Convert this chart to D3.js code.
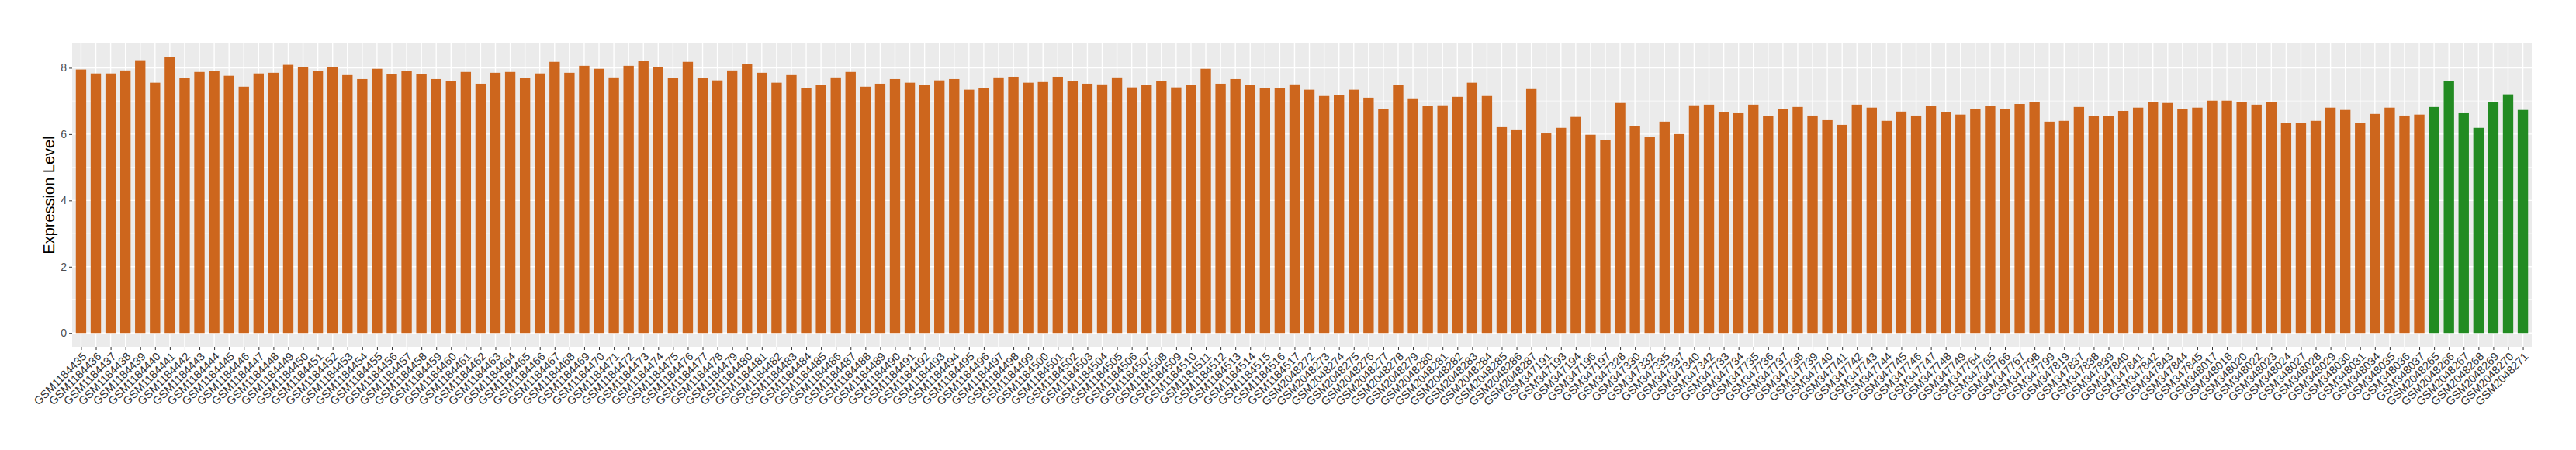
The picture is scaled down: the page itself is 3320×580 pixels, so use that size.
<!DOCTYPE html>
<html>
<head>
<meta charset="utf-8">
<script src="https://cdn.jsdelivr.net/npm/d3@7"></script>
<style>
  html, body { margin: 0; padding: 0; background: #ffffff; }
  svg { display: block; }
</style>
</head>
<body>
<svg id="chart" width="3320" height="580"></svg>
<script>
// ---------------- DATA ----------------
const samples = [
  "GSM1184435","GSM1184436","GSM1184437","GSM1184438","GSM1184439","GSM1184440","GSM1184441","GSM1184442","GSM1184443","GSM1184444",
  "GSM1184445","GSM1184446","GSM1184447","GSM1184448","GSM1184449","GSM1184450","GSM1184451","GSM1184452","GSM1184453","GSM1184454",
  "GSM1184455","GSM1184456","GSM1184457","GSM1184458","GSM1184459","GSM1184460","GSM1184461","GSM1184462","GSM1184463","GSM1184464",
  "GSM1184465","GSM1184466","GSM1184467","GSM1184468","GSM1184469","GSM1184470","GSM1184471","GSM1184472","GSM1184473","GSM1184474",
  "GSM1184475","GSM1184476","GSM1184477","GSM1184478","GSM1184479","GSM1184480","GSM1184481","GSM1184482","GSM1184483","GSM1184484",
  "GSM1184485","GSM1184486","GSM1184487","GSM1184488","GSM1184489","GSM1184490","GSM1184491","GSM1184492","GSM1184493","GSM1184494",
  "GSM1184495","GSM1184496","GSM1184497","GSM1184498","GSM1184499","GSM1184500","GSM1184501","GSM1184502","GSM1184503","GSM1184504",
  "GSM1184505","GSM1184506","GSM1184507","GSM1184508","GSM1184509","GSM1184510","GSM1184511","GSM1184512","GSM1184513","GSM1184514",
  "GSM1184515","GSM1184516","GSM1184517",
  "GSM2048272","GSM2048273","GSM2048274","GSM2048275","GSM2048276","GSM2048277","GSM2048278","GSM2048279","GSM2048280","GSM2048281",
  "GSM2048282","GSM2048283","GSM2048284","GSM2048285","GSM2048286","GSM2048287",
  "GSM347191","GSM347193","GSM347194","GSM347196","GSM347197","GSM347328","GSM347330","GSM347332","GSM347335","GSM347337",
  "GSM347340","GSM347342","GSM347733","GSM347734","GSM347735","GSM347736","GSM347737","GSM347738","GSM347739","GSM347740",
  "GSM347741","GSM347742","GSM347743","GSM347744","GSM347745","GSM347746","GSM347747","GSM347748","GSM347749","GSM347764",
  "GSM347765","GSM347766","GSM347767","GSM347798","GSM347799","GSM347819","GSM347837","GSM347838","GSM347839","GSM347840",
  "GSM347841","GSM347842","GSM347843","GSM347844","GSM347845","GSM348017","GSM348018","GSM348020","GSM348022","GSM348023",
  "GSM348024","GSM348027","GSM348028","GSM348029","GSM348030","GSM348031","GSM348034","GSM348035","GSM348036","GSM348037",
  "GSM2048265","GSM2048266","GSM2048267","GSM2048268","GSM2048269","GSM2048270","GSM2048271"
];

const expression = [
  7.95, 7.83, 7.83, 7.92, 8.23, 7.55, 8.32, 7.69, 7.875, 7.90,
  7.76, 7.43, 7.83, 7.85, 8.09, 8.02, 7.90, 8.02, 7.78, 7.66,
  7.97, 7.80, 7.90, 7.80, 7.66, 7.59, 7.875, 7.52, 7.85, 7.875,
  7.69, 7.83, 8.18, 7.85, 8.06, 7.97, 7.71, 8.06, 8.20, 8.02,
  7.69, 8.18, 7.69, 7.62, 7.92, 8.11, 7.85, 7.55, 7.78, 7.38,
  7.48, 7.71, 7.875, 7.43, 7.52, 7.66, 7.55, 7.48, 7.62, 7.66,
  7.34, 7.38, 7.71, 7.73, 7.55, 7.57, 7.73, 7.59, 7.52, 7.50,
  7.71, 7.41, 7.48, 7.59, 7.41, 7.48, 7.97, 7.52, 7.66, 7.48,
  7.38, 7.38, 7.50,
  7.34, 7.15, 7.17, 7.34, 7.10, 6.75, 7.48, 7.08, 6.84, 6.87,
  7.125, 7.55, 7.15, 6.21, 6.14, 7.36,
  6.02, 6.19, 6.52, 5.98, 5.82, 6.94, 6.24, 5.92, 6.375, 6.00,
  6.87, 6.89, 6.66, 6.63, 6.89, 6.54, 6.75, 6.82, 6.56, 6.42,
  6.28, 6.89, 6.80, 6.40, 6.68, 6.56, 6.84, 6.66, 6.59, 6.77,
  6.84, 6.77, 6.91, 6.96, 6.375, 6.40, 6.82, 6.54, 6.54, 6.70,
  6.80, 6.96, 6.94, 6.75, 6.80, 7.01, 7.01, 6.96, 6.89, 6.98,
  6.33, 6.33, 6.40, 6.80, 6.73, 6.33, 6.61, 6.80, 6.56, 6.59,
  6.82, 7.59, 6.63, 6.19, 6.96, 7.20, 6.73
];

// samples drawn in the second (green) group
const greenSamples = ["GSM2048265","GSM2048266","GSM2048267","GSM2048268","GSM2048269","GSM2048270","GSM2048271"];
const groupColors = { orange: "#CD661D", green: "#228B22" };

const yTicks = [0, 2, 4, 6, 8];
const yMinor = [1, 3, 5, 7];
const yTitle = "Expression Level";

// ---------------- LAYOUT ----------------
const panel = { left: 93, right: 3263, top: 56, bottom: 447 };
const font = "'Liberation Sans', Arial, Helvetica, sans-serif";

const svg = d3.select("#chart");
const data = samples.map((s, i) => ({ sample: s, value: expression[i] }));

// discrete scale with ggplot-like 0.6 expansion on each side
const n = samples.length;
const step = (panel.right - panel.left) / (n - 1 + 1.2);
const x = d3.scalePoint()
  .domain(samples)
  .range([panel.left + 0.6 * step, panel.right - 0.6 * step]);
const barW = step * 0.7;

const maxV = d3.max(expression);
const y = d3.scaleLinear()
  .domain([-0.05 * maxV, maxV * 1.05])
  .range([panel.bottom, panel.top]);

// panel background
svg.append("rect")
  .attr("x", panel.left).attr("y", panel.top)
  .attr("width", panel.right - panel.left)
  .attr("height", panel.bottom - panel.top)
  .attr("fill", "#EBEBEB");

// minor grid
svg.append("g").selectAll("line").data(yMinor).join("line")
  .attr("x1", panel.left).attr("x2", panel.right)
  .attr("y1", d => y(d)).attr("y2", d => y(d))
  .attr("stroke", "#ffffff").attr("stroke-width", 0.7);

// major grid y
svg.append("g").selectAll("line").data(yTicks).join("line")
  .attr("x1", panel.left).attr("x2", panel.right)
  .attr("y1", d => y(d)).attr("y2", d => y(d))
  .attr("stroke", "#ffffff").attr("stroke-width", 1.4);

// major grid x
svg.append("g").selectAll("line").data(samples).join("line")
  .attr("x1", d => x(d)).attr("x2", d => x(d))
  .attr("y1", panel.top).attr("y2", panel.bottom)
  .attr("stroke", "#ffffff").attr("stroke-width", 1.4);

// bars
svg.append("g").selectAll("rect").data(data).join("rect")
  .attr("x", d => x(d.sample) - barW / 2)
  .attr("width", barW)
  .attr("y", d => y(d.value))
  .attr("height", d => y(0) - y(d.value))
  .attr("fill", d => greenSamples.includes(d.sample) ? groupColors.green : groupColors.orange);

// y axis
const yAxis = d3.axisLeft(y).tickValues(yTicks).tickSize(4).tickPadding(3).tickFormat(d3.format("d"));
const gy = svg.append("g").attr("transform", `translate(${panel.left},0)`).call(yAxis);
gy.select(".domain").remove();
gy.selectAll(".tick line").attr("stroke", "#333333").attr("stroke-width", 1);
gy.selectAll(".tick text")
  .attr("fill", "#4D4D4D")
  .style("font-family", font)
  .style("font-size", "14px");

// x axis
const xAxis = d3.axisBottom(x).tickSize(4).tickPadding(0);
const gx = svg.append("g").attr("transform", `translate(0,${panel.bottom})`).call(xAxis);
gx.select(".domain").remove();
gx.selectAll(".tick line").attr("stroke", "#333333").attr("stroke-width", 1);
gx.selectAll(".tick text")
  .attr("fill", "#333333")
  .style("font-family", font)
  .style("font-size", "14.5px")
  .attr("text-anchor", "end")
  .attr("x", 0).attr("y", 0)
  .attr("dy", "0.72em")
  .attr("transform", "translate(0,6) rotate(-45)");

// y title
svg.append("text")
  .attr("transform", `translate(70,${(panel.top + panel.bottom) / 2}) rotate(-90)`)
  .attr("text-anchor", "middle")
  .style("font-family", font)
  .style("font-size", "20px")
  .attr("fill", "#000000")
  .text(yTitle);
</script>
</body>
</html>
